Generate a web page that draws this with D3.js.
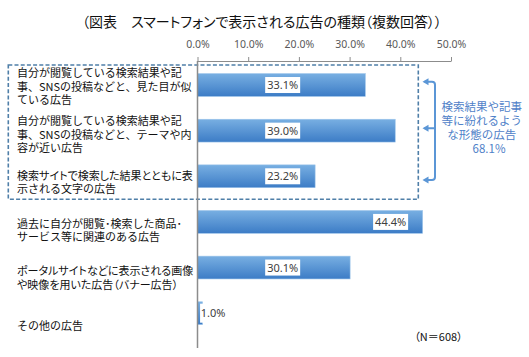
<!DOCTYPE html>
<html><head><meta charset="utf-8">
<script src="https://cdn.jsdelivr.net/npm/d3@7"></script>
<style>
html,body{margin:0;padding:0;background:#fff;}
svg{display:block;}
.jp{font-family:"Noto Sans CJK JP","Noto Sans CJK SC",sans-serif;}
.palt{font-feature-settings:"palt";}
.num{font-family:"Noto Sans",sans-serif;}
</style></head>
<body>
<svg id="c" width="529" height="357"></svg>
<script>
const title = "（図表　スマートフォンで表示される広告の種類（複数回答））";
const categories = [
  ["自分が閲覧している検索結果や記", "事、SNSの投稿などと、見た目が似", "ている広告"],
  ["自分が閲覧している検索結果や記", "事、SNSの投稿などと、テーマや内", "容が近い広告"],
  ["検索サイトで検索した結果とともに表", "示される文字の広告"],
  ["過去に自分が閲覧･検索した商品･", "サービス等に関連のある広告"],
  ["ポータルサイトなどに表示される画像", "や映像を用いた広告（バナー広告）"],
  ["その他の広告"]
];
const values = [33.1, 39.0, 23.2, 44.4, 30.1, 1.0];
const tickValues = [0, 10, 20, 30, 40, 50];
const tickLabels = ["0.0%", "10.0%", "20.0%", "30.0%", "40.0%", "50.0%"];
const bracketLines = ["検索結果や記事", "等に紛れるよう", "な形態の広告", "68.1%"];
const groupedCount = 3;
const noteText = "（N＝608）";

const svg = d3.select("#c");
const ids = d3.range(categories.length);
const x = d3.scaleLinear().domain([0, 50]).range([197.5, 451]);
const y = d3.scaleBand().domain(ids).range([62.2, 336]).paddingInner(0.5).paddingOuter(0.25);
const yl = d3.scalePoint().domain(ids).range([86.7, 326]);

const defs = svg.append("defs");
const g = defs.append("linearGradient").attr("id","bg").attr("x1",0).attr("y1",0).attr("x2",0).attr("y2",1);
g.append("stop").attr("offset","0%").attr("stop-color","#78afe2");
g.append("stop").attr("offset","100%").attr("stop-color","#3c7cc6");

// title
svg.append("text").attr("class","jp palt").attr("x",262).attr("y",27).attr("text-anchor","middle")
  .attr("font-size",14).attr("fill","#111").text(title);

// top axis
const axis = svg.append("g").attr("transform","translate(0,61)")
  .call(d3.axisTop(x).tickValues(tickValues).tickSize(4).tickSizeOuter(0).tickFormat((d,i)=>tickLabels[i]));
axis.select(".domain").attr("stroke","#8c8c8c");
axis.selectAll(".tick line").attr("stroke","#8c8c8c");
axis.selectAll(".tick text").attr("class","num").attr("font-size",10.5).attr("fill","#595959").attr("dy",-6)
  .attr("font-family","Noto Sans");

// dashed group box
const bottomGroup = y(groupedCount-1) + y.bandwidth() + 11.5;
svg.append("rect").attr("x",8.3).attr("y",65).attr("width",410).attr("height",bottomGroup-65)
  .attr("fill","none").attr("stroke","#4f7fa8").attr("stroke-width",1.6).attr("stroke-dasharray","4,2.2");

// bars
svg.append("g").selectAll("rect").data(values).join("rect")
  .attr("x", x(0)).attr("y",(d,i)=>y(i)).attr("width",d=>x(d)-x(0)).attr("height",y.bandwidth())
  .attr("fill","url(#bg)").attr("stroke","#9cc4ea").attr("stroke-width",0.6);

// vertical axis line
svg.append("line").attr("x1",x(0)).attr("x2",x(0)).attr("y1",61).attr("y2",348)
  .attr("stroke","#8c8c8c").attr("stroke-width",1.5);

// value labels
const lab = svg.append("g").selectAll("g").data(values).join("g")
  .attr("transform",(d,i)=>{
    let cx;
    if (d > 40) cx = x(d) - 32;
    else if (d < 5) cx = x(d) + 10.5;
    else cx = x(16.8);
    return `translate(${cx},${y(i)+y.bandwidth()/2})`;
  });
lab.append("rect").attr("x",d=>d<5?-13:-17.5).attr("y",d=>d<5?-9.5:-8).attr("width",d=>d<5?26:35).attr("height",d=>d<5?19:16).attr("fill","#fff");
lab.append("text").attr("class","num").attr("text-anchor","middle").attr("dy","0.36em")
  .attr("font-size",11).attr("fill","#404040").text(d=>d.toFixed(1)+"%");

// category labels (one text per line); proportional kana spacing only for long lines
const emWidth = s => Array.from(s).reduce((a,c)=>a + (/[\x20-\x7e\uff61-\uff9f]/.test(c) ? 0.6 : 1), 0);
const lh = 13.3;
categories.forEach((lines,i)=>{
  const top = yl(i) - (lines.length-1)*lh/2;
  lines.forEach((s,k)=>{
    svg.append("text").attr("class", emWidth(s) >= 16 ? "jp palt" : "jp")
      .attr("x",17).attr("y",top+k*lh).attr("dy","0.36em")
      .attr("font-size",11).attr("fill","#111").text(s);
  });
});

// bracket
const bx = 435, tipX = 422.5;
const yTop = 81.7, yBot = 180, yMid = 128.3;
const col = "#5b96d6";
svg.append("path").attr("d",`M${tipX+2},${yTop} H${bx-3} Q${bx},${yTop} ${bx},${yTop+3} V${yBot-3} Q${bx},${yBot} ${bx-3},${yBot} H${tipX+2} M${bx},${yMid} H${tipX+2}`)
  .attr("fill","none").attr("stroke",col).attr("stroke-width",2);
[yTop,yMid,yBot].forEach(yy=>{
  svg.append("path").attr("d",`M${tipX},${yy} L${tipX+6},${yy-3.5} L${tipX+6},${yy+3.5} Z`).attr("fill",col);
});
bracketLines.forEach((s,k)=>svg.append("text").attr("class","jp").attr("font-size",11.5).attr("fill","#4f81c8")
  .attr("text-anchor","middle").attr("x",k===3?489:481.7).attr("y",106.7+k*13.9).attr("dy","0.36em").text(s));

// note
svg.append("text").attr("class","jp palt").attr("x",438.5).attr("y",336.7).attr("dy","0.36em").attr("text-anchor","middle")
  .attr("font-size",11).attr("fill","#111").text(noteText);
</script>
</body></html>
